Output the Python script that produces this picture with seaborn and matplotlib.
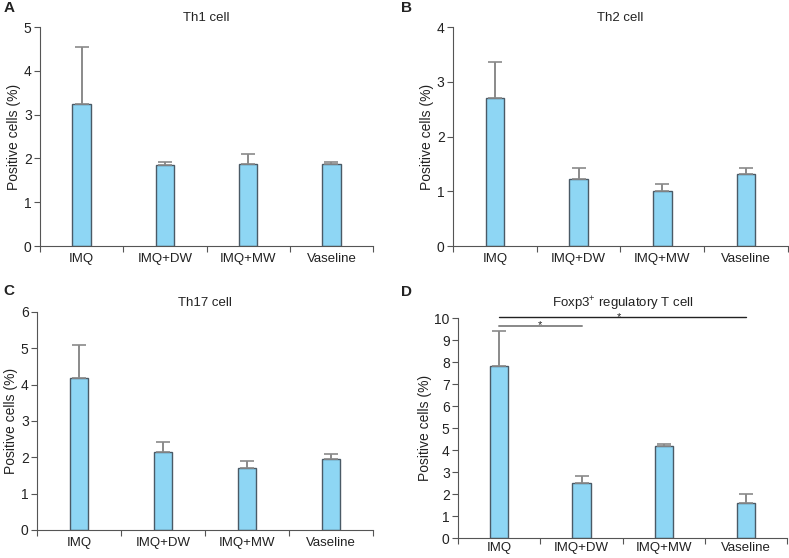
import pandas as pd
import matplotlib.pyplot as plt
import seaborn as sns

groups = ["IMQ", "IMQ+DW", "IMQ+MW", "Vaseline"]

th1_mean = [3.25, 1.85, 1.88, 1.87]
th1_top = [4.54, 1.91, 2.11, 1.91]
th2_mean = [2.70, 1.22, 1.00, 1.31]
th2_top = [3.37, 1.42, 1.14, 1.43]
th17_mean = [4.18, 2.15, 1.70, 1.96]
th17_top = [5.10, 2.43, 1.90, 2.08]
treg_mean = [7.80, 2.52, 4.19, 1.57]
treg_top = [9.39, 2.81, 4.27, 1.98]

sns.set_style("ticks")
plt.rcParams["font.family"] = ["Liberation Sans", "DejaVu Sans"]
plt.rcParams["mathtext.fontset"] = "custom"
plt.rcParams["mathtext.rm"] = "Liberation Sans"
plt.rcParams["axes.edgecolor"] = "#555555"
plt.rcParams["xtick.color"] = "#555555"
plt.rcParams["ytick.color"] = "#555555"
plt.rcParams["xtick.labelcolor"] = "#222222"
plt.rcParams["ytick.labelcolor"] = "#222222"

fig = plt.figure(figsize=(7.89, 5.58), dpi=100)

panels = [
    ("A", "Th1 cell", th1_mean, th1_top, 5, [0.0507, 0.5591, 0.4221, 0.3925], (0.004, 0.986), 4),
    ("B", "Th2 cell", th2_mean, th2_top, 4, [0.5741, 0.5591, 0.4246, 0.3925], (0.508, 0.986), 4),
    ("C", "Th17 cell", th17_mean, th17_top, 6, [0.0469, 0.0502, 0.4259, 0.3907], (0.004, 0.479), 4),
    ("D", "Foxp3$^{+}$ regulatory T cell", treg_mean, treg_top, 10,
     [0.5805, 0.0358, 0.4175, 0.3943], (0.508, 0.477), 8),
]

for letter, title, mean, top, ymax, rect, lpos, tpad in panels:
    ax = fig.add_axes(rect)
    df = pd.DataFrame({"group": groups, "value": mean})
    sns.barplot(data=df, x="group", y="value", ax=ax, width=0.22,
                color="#8ED6F4", edgecolor="#4a5a66", linewidth=1.0,
                saturation=1, errorbar=None)
    # one-sided error bars (upper only)
    upper = [t - m for t, m in zip(top, mean)]
    eb = ax.errorbar(range(4), mean, yerr=[[0] * 4, upper], fmt="none",
                     ecolor="#8a8a8a", elinewidth=1.4, capsize=5, capthick=1.2,
                     zorder=1)
    for cap in eb[1]:
        cap.set_color("#333333")

    ax.set_xlim(-0.5, 3.5)
    ax.set_ylim(0, ymax)
    ax.set_yticks(range(0, ymax + 1))
    ax.set_xticks([-0.5, 0.5, 1.5, 2.5, 3.5])
    ax.set_xticklabels([])
    ax.set_xticks(range(4), minor=True)
    ax.set_xticklabels(groups, minor=True, fontsize=9.5)
    ax.tick_params(axis="x", which="minor", length=0, pad=3 if letter == "D" else 5)
    ax.tick_params(axis="x", which="major", length=4, width=0.8)
    ax.tick_params(axis="y", length=4, width=0.8, labelsize=10, pad=2)
    ax.set_xlabel("")
    ax.set_ylabel("Positive cells (%)", fontsize=10, color="#222222", labelpad=2)
    ax.set_title(title, fontsize=9.5, pad=tpad, color="#222222")
    sns.despine(ax=ax)
    fig.text(lpos[0], lpos[1], letter, fontsize=11, fontweight="bold",
             color="#222222", va="center", ha="left")

    if letter == "D":
        ax.plot([0, 1], [9.62, 9.62], color="#888888", lw=1.4, clip_on=False)
        ax.text(0.5, 9.70, "*", ha="center", va="center", fontsize=8, color="#222222")
        ax.plot([0, 3], [10.05, 10.05], color="#222222", lw=1.0, clip_on=False)
        ax.text(1.45, 10.06, "*", ha="center", va="center", fontsize=8, color="#222222",
                clip_on=False)

fig.savefig("out.png", dpi=100)
